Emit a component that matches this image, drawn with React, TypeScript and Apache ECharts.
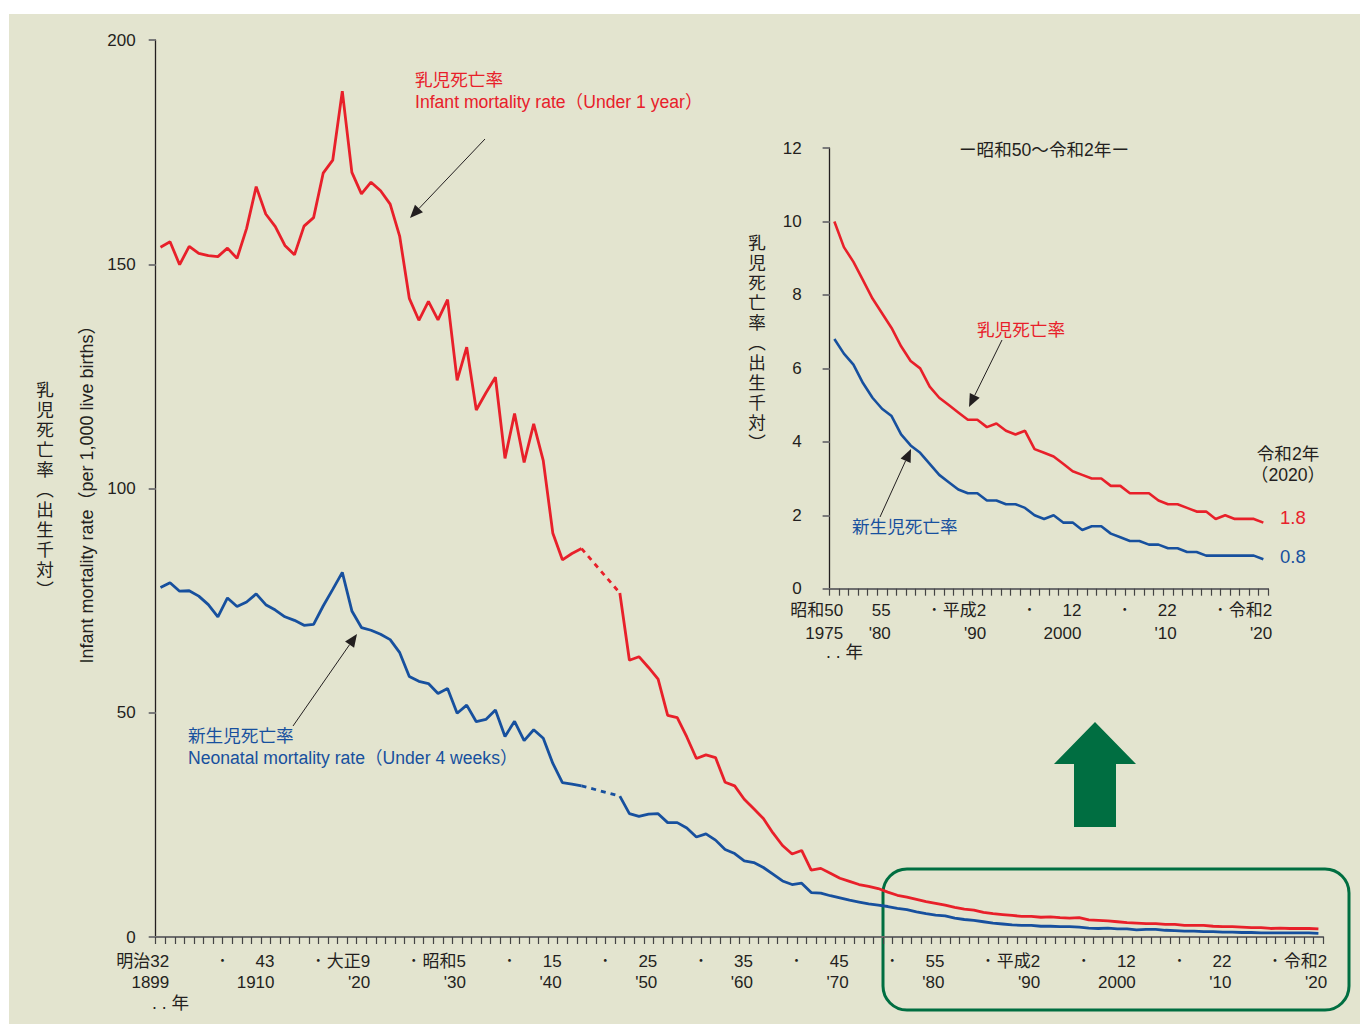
import React, { useEffect, useRef } from "react";
import * as echarts from "echarts";

// years 1899 .. 2020 (one point per year, drawn at the middle of the year)
const FIRST_YEAR = 1899;
const LAST_YEAR = 2020;
const years = Array.from({ length: LAST_YEAR - FIRST_YEAR + 1 }, (_, i) => FIRST_YEAR + i);

// 乳児死亡率 (per 1,000 live births); 1944-46 missing
const infantRate = [
  153.8, 155.0, 149.9, 154.0, 152.4, 151.9, 151.7, 153.6, 151.3, 158.0, // 1899-1908
  167.3, 161.2, 158.4, 154.2, 152.1, 158.5, 160.4, 170.3, 173.2, 188.6, // 1909-1918
  170.5, 165.7, 168.3, 166.4, 163.4, 156.2, 142.4, 137.5, 141.7, 137.6, // 1919-1928
  142.1, 124.1, 131.5, 117.5, 121.3, 124.8, 106.7, 116.7, 105.8, 114.4, // 1929-1938
  106.2, 90.0, 84.1, 85.5, 86.6, null, null, null, 76.7, 61.7, // 1939-1948
  62.5, 60.1, 57.5, 49.4, 48.9, 44.6, 39.8, 40.6, 40.0, 34.5, // 1949-1958
  33.7, 30.7, 28.6, 26.4, 23.2, 20.4, 18.5, 19.3, 14.9, 15.3, // 1959-1968
  14.2, 13.1, 12.4, 11.7, 11.3, 10.8, 10.0, 9.3, 8.9, 8.4, // 1969-1978
  7.9, 7.5, 7.1, 6.6, 6.2, 6.0, 5.5, 5.2, 5.0, 4.8, // 1979-1988
  4.6, 4.6, 4.4, 4.5, 4.3, 4.2, 4.3, 3.8, 3.7, 3.6, // 1989-1998
  3.4, 3.2, 3.1, 3.0, 3.0, 2.8, 2.8, 2.6, 2.6, 2.6, // 1999-2008
  2.4, 2.3, 2.3, 2.2, 2.1, 2.1, 1.9, 2.0, 1.9, 1.9, // 2009-2018
  1.9, 1.8, // 2019-2020
];

// 新生児死亡率 (per 1,000 live births); 1944-46 missing
const neonatalRate = [
  77.9, 79.0, 77.1, 77.2, 76.0, 74.1, 71.4, 75.6, 73.7, 74.7, // 1899-1908
  76.5, 74.1, 72.9, 71.4, 70.6, 69.5, 69.7, 73.8, 77.5, 81.3, // 1909-1918
  72.7, 69.0, 68.4, 67.5, 66.3, 63.4, 58.1, 57.0, 56.5, 54.3, // 1919-1928
  55.4, 49.9, 51.7, 48.0, 48.5, 50.6, 44.7, 48.1, 43.8, 46.2, // 1929-1938
  44.3, 38.7, 34.4, 34.1, 33.7, null, null, null, 31.4, 27.5, // 1939-1948
  26.9, 27.4, 27.5, 25.5, 25.5, 24.3, 22.3, 23.0, 21.6, 19.5, // 1949-1958
  18.6, 17.0, 16.6, 15.5, 14.0, 12.5, 11.7, 12.0, 9.9, 9.8, // 1959-1968
  9.2, 8.7, 8.2, 7.8, 7.4, 7.1, 6.8, 6.4, 6.1, 5.6, // 1969-1978
  5.2, 4.9, 4.7, 4.2, 3.9, 3.7, 3.4, 3.1, 2.9, 2.7, // 1979-1988
  2.6, 2.6, 2.4, 2.4, 2.3, 2.3, 2.2, 2.0, 1.9, 2.0, // 1989-1998
  1.8, 1.8, 1.6, 1.7, 1.7, 1.5, 1.4, 1.3, 1.3, 1.2, // 1999-2008
  1.2, 1.1, 1.1, 1.0, 1.0, 0.9, 0.9, 0.9, 0.9, 0.9, // 2009-2018
  0.9, 0.8, // 2019-2020
];

// the war-years gap is bridged by a dashed line between these two years
const GAP_FROM = 1943;
const GAP_TO = 1947;

const INSET_FROM = 1975;

// x tick labels (year -> label)
const mainTickYears = [1899, 1905, 1910, 1915, 1920, 1925, 1930, 1935, 1940, 1945, 1950, 1955, 1960,
  1965, 1970, 1975, 1980, 1985, 1990, 1995, 2000, 2005, 2010, 2015, 2020];
const mainTickTexts = ["明治32\n1899", "･", "43\n1910", "･", "大正9\n'20", "･", "昭和5\n'30", "･", "15\n'40", "･",
  "25\n'50", "･", "35\n'60", "･", "45\n'70", "･", "55\n'80", "･", "平成2\n'90", "･", "12\n2000", "･", "22\n'10", "･", "令和2\n'20"];
const insetTickYears = [1975, 1980, 1985, 1990, 1995, 2000, 2005, 2010, 2015, 2020];
const insetTickTexts = ["昭和50\n1975", "55\n'80", "･", "平成2\n'90", "･", "12\n2000", "･", "22\n'10", "･", "令和2\n'20"];

const RED = "#E8202A";
const BLUE = "#17509E";
const INK = "#231F20";
const GREEN = "#006E41";
const BG = "#E3E4CF";
const FONT = '"Liberation Sans", "Noto Sans CJK JP", sans-serif';

const points = (vals: (number | null)[], from = FIRST_YEAR) =>
  years
    .map((y, i) => [y + 0.5, vals[i] === null ? "-" : vals[i]] as [number, any])
    .filter((p) => p[0] >= from);

const gapPoints = (vals: (number | null)[]) =>
  [GAP_FROM, GAP_TO].map((y) => [y + 0.5, vals[y - FIRST_YEAR]]);

const labelFor = (ys: number[], ts: string[]) => (v: number) => {
  const k = ys.indexOf(Math.round(v) - 1);
  return k < 0 ? "" : ts[k];
};

const txt = (text: string, x: number, y: number, o: any = {}) => ({
  type: "text",
  x,
  y,
  rotation: o.rot || 0,
  silent: true,
  style: {
    text,
    fill: o.color || INK,
    font: `${o.size || 17.6}px ${FONT}`,
    align: o.align || "left",
    textAlign: o.align || "left",
    verticalAlign: "middle",
    textVerticalAlign: "middle",
    lineHeight: o.lh,
  },
});

const arrow = (x1: number, y1: number, x2: number, y2: number) => {
  const a = Math.atan2(y2 - y1, x2 - x1);
  const L = 13;
  const W = 5.5;
  const bx = x2 - L * Math.cos(a);
  const by = y2 - L * Math.sin(a);
  const px = -Math.sin(a) * W;
  const py = Math.cos(a) * W;
  return [
    { type: "line", silent: true, shape: { x1, y1, x2: bx, y2: by }, style: { stroke: INK, lineWidth: 1 } },
    {
      type: "polygon",
      silent: true,
      shape: { points: [[x2, y2], [bx + px, by + py], [bx - px, by - py]] },
      style: { fill: INK },
    },
  ];
};

const xAxisBase = (min: number, max: number, fmt: (v: number) => string, margin: number, lh: number) => ({
  type: "value",
  min,
  max,
  interval: 1,
  axisLine: { show: true, lineStyle: { color: "#6E6E6E", width: 2 } },
  axisTick: { show: true, length: 7, lineStyle: { color: "#444", width: 1.2 } },
  splitLine: { show: false },
  axisLabel: {
    formatter: fmt,
    align: "right",
    padding: [0, -4, 0, 0],
    margin,
    lineHeight: lh,
    fontSize: 17,
    fontFamily: FONT,
    color: INK,
    showMinLabel: true,
    showMaxLabel: true,
  },
});

const yAxisBase = (max: number, interval: number, margin: number) => ({
  type: "value",
  min: 0,
  max,
  interval,
  axisLine: { show: true, lineStyle: { color: INK, width: 1.3 } },
  axisTick: { show: true, length: 7, lineStyle: { color: "#7A7A7A", width: 2 } },
  splitLine: { show: false },
  axisLabel: { margin, fontSize: 17, fontFamily: FONT, color: INK },
});

const lineSeries = (data: any[], color: string, width: number, axis: number, dashed = false) => ({
  type: "line",
  data,
  xAxisIndex: axis,
  yAxisIndex: axis,
  symbol: "none",
  connectNulls: false,
  silent: true,
  lineStyle: { color, width, type: dashed ? [5, 5] : "solid" },
});

const App = () => {
  const chartRef = useRef<HTMLDivElement>(null);

  useEffect(() => {
    document.body.style.margin = "0";
    if (!chartRef.current) return;
    const chart = echarts.init(chartRef.current, undefined, { renderer: "svg" });

    const option: any = {
      animation: false,
      backgroundColor: "#ffffff",
      grid: [
        { left: 155.7, top: 40, width: 1167.5, height: 897 },
        { left: 829.6, top: 148, width: 438.5, height: 440.7 },
      ],
      xAxis: [
        { ...xAxisBase(FIRST_YEAR, LAST_YEAR + 1, labelFor(mainTickYears, mainTickTexts), 14, 21), gridIndex: 0 },
        { ...xAxisBase(INSET_FROM, LAST_YEAR + 1, labelFor(insetTickYears, insetTickTexts), 11, 22.4), gridIndex: 1 },
      ],
      yAxis: [
        { ...yAxisBase(200, 50, 20), gridIndex: 0 },
        { ...yAxisBase(12, 2, 28), gridIndex: 1 },
      ],
      series: [
        lineSeries(points(neonatalRate), BLUE, 2.8, 0),
        lineSeries(gapPoints(neonatalRate), BLUE, 2.8, 0, true),
        lineSeries(points(infantRate), RED, 2.8, 0),
        lineSeries(gapPoints(infantRate), RED, 2.8, 0, true),
        lineSeries(points(neonatalRate, INSET_FROM), BLUE, 2.6, 1),
        lineSeries(points(infantRate, INSET_FROM), RED, 2.6, 1),
      ],
      graphic: [
        { type: "rect", z: -10, silent: true, shape: { x: 9, y: 14, width: 1351, height: 1010 }, style: { fill: BG } },
        // axis titles
        txt("Infant mortality rate（per 1,000 live births）", 87, 490, { rot: Math.PI / 2, align: "center", size: 18 }),
        txt("乳\n児\n死\n亡\n率\n︵\n出\n生\n千\n対\n︶", 45, 490, { align: "center", lh: 20 }),
        txt(". . 年", 152, 1003),
        // main annotations
        txt("乳児死亡率", 415, 80, { color: RED }),
        txt("Infant mortality rate（Under 1 year）", 415, 102, { color: RED }),
        ...arrow(485, 139, 410, 218),
        txt("新生児死亡率", 188, 736, { color: BLUE }),
        txt("Neonatal mortality rate（Under 4 weeks）", 188, 758, { color: BLUE }),
        ...arrow(293, 726, 357, 634),
        // inset
        txt("ー昭和50～令和2年ー", 1044, 150, { align: "center" }),
        txt("乳\n児\n死\n亡\n率\n︵\n出\n生\n千\n対\n︶", 757, 343, { align: "center", lh: 20 }),
        txt(". . 年", 826, 652),
        txt("乳児死亡率", 977, 330, { color: RED }),
        ...arrow(1002, 340, 969, 407),
        txt("新生児死亡率", 852, 527, { color: BLUE }),
        ...arrow(880, 517, 911, 449),
        txt("令和2年\n（2020）", 1288, 464, { align: "center", lh: 21 }),
        txt("1.8", 1280, 517, { color: RED, size: 18.5 }),
        txt("0.8", 1280, 556, { color: BLUE, size: 18.5 }),
        // highlight
        {
          type: "polygon",
          silent: true,
          shape: { points: [[1095, 722], [1136, 764], [1116, 764], [1116, 827], [1074, 827], [1074, 764], [1054, 764]] },
          style: { fill: GREEN },
        },
        {
          type: "rect",
          silent: true,
          shape: { x: 883, y: 869, width: 466, height: 141, r: 24 },
          style: { fill: "none", stroke: GREEN, lineWidth: 3 },
        },
      ],
    };

    chart.setOption(option);
    return () => chart.dispose();
  }, []);

  return <div ref={chartRef} style={{ width: "1360px", height: "1024px" }} />;
};

export default App;
